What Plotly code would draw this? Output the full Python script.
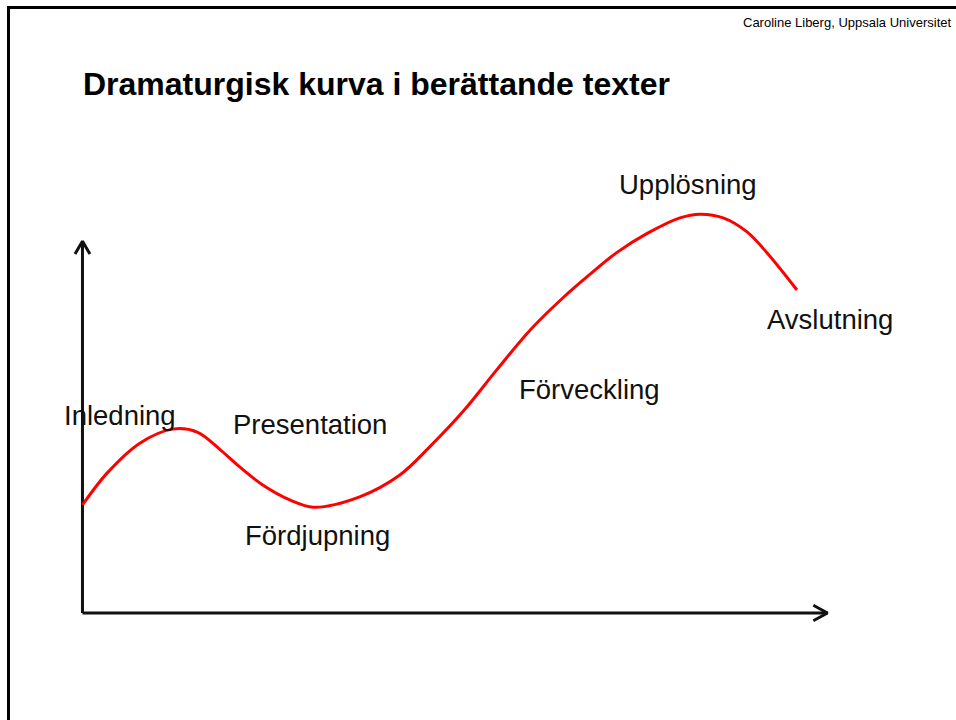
import plotly.graph_objects as go

# Dramatic curve (story time on x, tension on y; axes run 0..100)
curve_x = [0, 3.3, 7.7, 12.1, 15.4, 18.5, 21.1, 24.2, 27.9, 31.0, 37.2, 42.6, 46.6,
           51.1, 55.6, 60.1, 64.5, 68.1, 71.7, 75.8, 80.2, 82.9, 86.0, 89.2, 91.9, 95.9]
curve_y = [29.2, 37.8, 45.9, 49.7, 48.9, 44.1, 39.5, 34.6, 30.5, 28.6, 31.4, 37.3, 44.9,
           54.5, 65.7, 76.5, 85.2, 91.5, 97.4, 102.6, 106.8, 107.8, 106.8, 103.0, 97.3, 87.3]

stage_labels = ["Inledning", "Presentation", "Fördjupning", "Förveckling", "Upplösning", "Avslutning"]

title_text = "Dramaturgisk kurva i berättande texter"
credit_text = "Caroline Liberg, Uppsala Universitet"

# layout (label anchor positions in axis units)
label_x = [-2.8, 20.0, 21.6, 58.3, 71.7, 91.6]
label_y = [53.5, 51.0, 21.0, 60.3, 115.8, 79.4]

FONT = "Liberation Sans, Arial, sans-serif"

fig = go.Figure()

# axes with open chevron arrowheads
fig.add_trace(go.Scatter(x=[0, 0], y=[0, 100.5], mode="lines",
                         line=dict(color="#111111", width=3), hoverinfo="skip"))
fig.add_trace(go.Scatter(x=[-1.0, 0, 1.0], y=[97.0, 100.5, 97.0], mode="lines",
                         line=dict(color="#111111", width=3), hoverinfo="skip"))
fig.add_trace(go.Scatter(x=[0, 100], y=[0, 0], mode="lines",
                         line=dict(color="#111111", width=3), hoverinfo="skip"))
fig.add_trace(go.Scatter(x=[98.1, 100, 98.1], y=[2.1, 0, -2.1], mode="lines",
                         line=dict(color="#111111", width=3), hoverinfo="skip"))

# red curve
fig.add_trace(go.Scatter(x=curve_x, y=curve_y, mode="lines",
                         line=dict(color="#ff0000", width=3, shape="spline", smoothing=1.0),
                         hoverinfo="skip"))

for t, lx, ly in zip(stage_labels, label_x, label_y):
    fig.add_annotation(x=lx, y=ly, text=t, showarrow=False, xanchor="left", yanchor="middle",
                       font=dict(family=FONT, size=27.5, color="#111111"))

fig.add_annotation(xref="paper", yref="paper", x=81 / 956, y=1 - 84 / 720, text="<b>" + title_text + "</b>",
                   showarrow=False, xanchor="left", yanchor="middle",
                   font=dict(family=FONT, size=32, color="#000000"))
fig.add_annotation(xref="paper", yref="paper", x=953 / 956, y=1 - 22 / 720, text=credit_text,
                   showarrow=False, xanchor="right", yanchor="middle",
                   font=dict(family=FONT, size=13, color="#000000"))

# slide border (left and top)
fig.add_shape(type="path", xref="paper", yref="paper",
              path=f"M {8.5/956} 0 L {8.5/956} {1-7.5/720} L 1 {1-7.5/720}",
              line=dict(color="#000000", width=3))

fig.update_layout(
    width=956, height=720,
    margin=dict(l=0, r=0, t=0, b=0),
    paper_bgcolor="white", plot_bgcolor="white",
    showlegend=False,
    xaxis=dict(range=[-11.07, 117.25], visible=False, fixedrange=True),
    yaxis=dict(range=[-28.92, 165.68], visible=False, fixedrange=True),
)

fig.write_html("out.html", config={"displayModeBar": False},
               post_script="document.body.style.margin='0';document.body.style.overflow='hidden';")
